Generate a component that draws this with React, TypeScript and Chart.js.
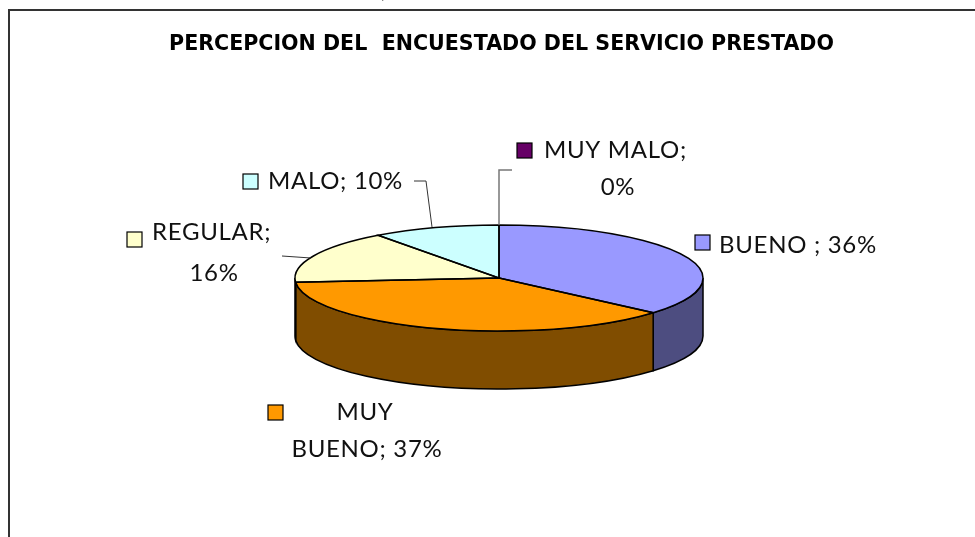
import React, { useEffect, useRef } from "react";
import { Chart, registerables } from "chart.js";

Chart.register(...registerables);

const TITLE = "PERCEPCION DEL  ENCUESTADO DEL SERVICIO PRESTADO";
const categories = ["BUENO ", "MUY BUENO", "REGULAR", "MALO", "MUY MALO"];
const percentages = [36, 37, 16, 10, 0];
const colors = ["#9999FF", "#FF9900", "#FFFFCC", "#CCFFFF", "#660066"];
const wallColors = ["#4D4D80", "#804D00", "#808066", "#668080", "#330033"];

const FONT = "Lato";

// Layout of the tilted pie on the canvas
const PIE = { x: 499, y: 278, rx: 204, ry: 53, depth: 58 };
const FRAME = { left: 9, top: 10, right: 985, bottom: 545 };

// Where each slice's label sits: key box, first-line word count, text lines
const placements = [
  { key: [695, 235], wrap: 0, lines: [[719, 245]], leader: null },
  { key: [268, 405], wrap: 1, lines: [[365, 412], [367, 449]], align: "center", leader: null },
  { key: [127, 232], wrap: 1, lines: [[152, 232], [214, 273]], leader: [[282, 256], [311, 258]], second: "center" },
  { key: [243, 174], wrap: 0, lines: [[268, 181]], leader: [[414, 181], [426, 181], [432, 227]] },
  { key: [517, 143], wrap: 2, lines: [[544, 150], [618, 187]], leader: [[512, 170], [499, 170], [499, 225]], second: "center" },
];

const pie3d = {
  id: "pie3d",
  beforeDraw(chart: any) {
    const { ctx } = chart;
    ctx.save();
    ctx.strokeStyle = "#333";
    ctx.lineWidth = 2;
    ctx.strokeRect(FRAME.left, FRAME.top, FRAME.right - FRAME.left, FRAME.bottom - FRAME.top);
    ctx.fillStyle = "#222";
    ctx.font = `16px ${FONT}`;
    ctx.textAlign = "center";
    ctx.textBaseline = "alphabetic";
    ctx.fillText(",", 383, -1);
    ctx.restore();
  },
  beforeDatasetsDraw(chart: any) {
    const { ctx } = chart;
    const arcs = chart.getDatasetMeta(0).data;
    ctx.save();
    arcs.forEach((arc: any, i: number) => {
      const a = Math.max(arc.startAngle, 0);
      const b = Math.min(arc.endAngle, Math.PI);
      if (b <= a) return;
      ctx.beginPath();
      ctx.ellipse(PIE.x, PIE.y, PIE.rx, PIE.ry, 0, a, b);
      ctx.ellipse(PIE.x, PIE.y + PIE.depth, PIE.rx, PIE.ry, 0, b, a, true);
      ctx.closePath();
      ctx.fillStyle = wallColors[i];
      ctx.fill();
      ctx.strokeStyle = "#000";
      ctx.lineWidth = 1.5;
      ctx.stroke();
    });
    ctx.restore();
    const r = arcs[0].outerRadius;
    ctx.save();
    ctx.translate(PIE.x, PIE.y);
    ctx.scale(PIE.rx / r, PIE.ry / r);
    ctx.translate(-arcs[0].x, -arcs[0].y);
  },
  afterDatasetsDraw(chart: any) {
    const { ctx } = chart;
    ctx.restore();
    const arcs = chart.getDatasetMeta(0).data;
    ctx.save();
    ctx.strokeStyle = "#000";
    ctx.lineWidth = 1.5;
    arcs.forEach((arc: any) => {
      if (arc.endAngle - arc.startAngle <= 0) return;
      ctx.beginPath();
      ctx.moveTo(PIE.x, PIE.y);
      ctx.ellipse(PIE.x, PIE.y, PIE.rx, PIE.ry, 0, arc.startAngle, arc.endAngle);
      ctx.closePath();
      ctx.stroke();
    });

    ctx.font = `24px ${FONT}`;
    (ctx as any).letterSpacing = "0.7px";
    ctx.textBaseline = "middle";
    categories.forEach((cat, i) => {
      const p: any = placements[i];
      const words = `${cat}; ${percentages[i]}%`.replace(" ;", "\u0000").split(" ").map((w) => w.replace("\u0000", " ;"));
      const text = p.wrap
        ? [words.slice(0, p.wrap).join(" "), words.slice(p.wrap).join(" ")]
        : [words.join(" ")];
      ctx.fillStyle = colors[i];
      ctx.fillRect(p.key[0], p.key[1], 15, 15);
      ctx.strokeStyle = "#000";
      ctx.lineWidth = 1.2;
      ctx.strokeRect(p.key[0], p.key[1], 15, 15);
      ctx.fillStyle = "#111";
      text.forEach((t, j) => {
        ctx.textAlign = p.align === "center" || (j === 1 && p.second === "center") ? "center" : "left";
        ctx.fillText(t, p.lines[j][0], p.lines[j][1]);
      });
      if (p.leader) {
        ctx.strokeStyle = i === 4 ? "#777" : "#333";
        ctx.lineWidth = i === 4 ? 1.5 : 1;
        ctx.beginPath();
        p.leader.forEach((pt: number[], k: number) => (k ? ctx.lineTo(pt[0], pt[1]) : ctx.moveTo(pt[0], pt[1])));
        ctx.stroke();
      }
    });
    ctx.restore();
  },
};

export default function App() {
  const ref = useRef<HTMLCanvasElement>(null);
  useEffect(() => {
    const chart = new Chart(ref.current as HTMLCanvasElement, {
      type: "pie",
      data: {
        labels: categories,
        datasets: [{ data: percentages, backgroundColor: colors, borderWidth: 0, hoverOffset: 0 }],
      },
      options: {
        responsive: false,
        animation: false,
        layout: { padding: { left: 28, top: 32 } },
        plugins: {
          legend: { display: false },
          tooltip: { enabled: false },
          title: {
            display: true,
            text: TITLE,
            color: "#000",
            font: { family: "'DejaVu Sans'", size: 20.6, weight: "bold" },
            padding: 0,
          },
        },
      },
      plugins: [pie3d],
    } as any);
    return () => chart.destroy();
  }, []);
  return (
    <div style={{ position: "fixed", left: 0, top: 0, width: 975, height: 537, background: "#fff" }}>
      <canvas ref={ref} width={975} height={537} style={{ display: "block" }} />
    </div>
  );
}
